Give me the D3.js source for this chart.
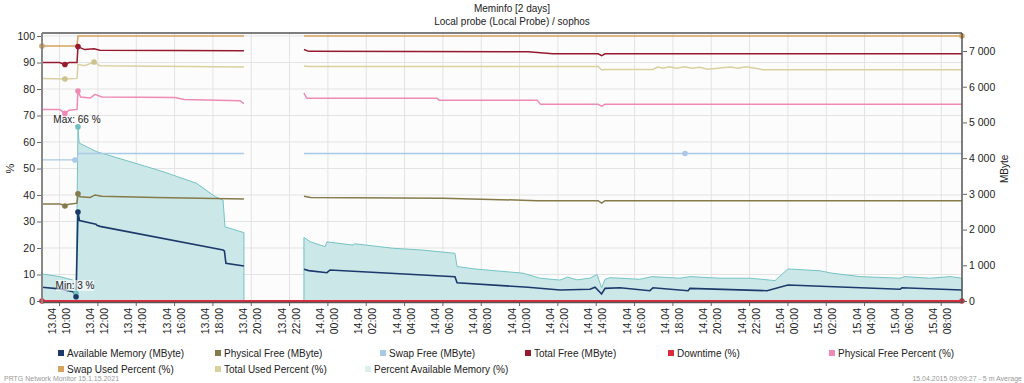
<!DOCTYPE html>
<html>
<head>
<meta charset="utf-8">
<script src="https://cdn.jsdelivr.net/npm/d3@7"></script>
<style>
  body { margin: 0; background: #fff; }
  svg text { font-family: "Liberation Sans", Arial, sans-serif; }
</style>
</head>
<body>
<svg id="chart" width="1024" height="383"></svg>
<script>
// values are [hours since 13.04.2015 00:00, value]; null marks the gap
var availableMB = [[9.08,384],[10.0,340],[10.70,262],[10.86,120],[10.96,2490],[11.04,2250],[11.90,2150],[11.95,2120],[12.11,2090],[18.53,1430],[18.6,1400],[18.68,1056],[19.62,980],[19.7,null],
  [22.75,888],[23.0,850],[23.85,800],[23.95,793],[24.11,868],[30.63,680],[30.74,513],[34.44,384],[36.11,308],[37.67,328],[37.94,384],[38.28,196],[38.46,353],[39.24,370],[40.80,289],[40.96,370],[42.79,289],[42.89,353],[46.91,289],[48.00,448],[53.85,328],[53.95,370],[57.08,308]];
var physFreeMB = [[9.08,2717],[10.0,2717],[10.28,2680],[10.5,2710],[10.91,2740],[10.96,3005],[11.07,2920],[11.6,2900],[11.85,2970],[12.2,2930],[15,2900],[19.62,2857],[19.7,null],
  [22.75,2930],[23.1,2900],[30,2880],[34.91,2810],[38.1,2810],[38.28,2740],[38.46,2810],[57.08,2810]];
var swapFreeMB = [[9.08,3950],[10.91,3950],[10.96,4130],[19.62,4130],[19.7,null],[22.75,4130],[57.08,4130]];
var totalFreeMB = [[9.08,6675],[10.0,6675],[10.28,6620],[10.5,6675],[10.91,6675],[10.96,7123],[11.3,7040],[11.8,7060],[12.1,7020],[19.62,7010],[19.7,null],
  [22.75,7040],[23.0,6990],[34.44,6980],[35.74,6920],[38.1,6920],[38.28,6870],[38.46,6920],[57.08,6920]];
var downtimePct = [[9.08,0],[57.08,0]];
var physFreePct = [[9.08,72.3],[10.0,72.3],[10.28,70.8],[10.5,72],[10.91,72.3],[10.96,79.2],[11.1,77],[11.6,76.6],[11.85,78],[12.2,77],[16.02,76.8],[16.5,76],[19.41,75.6],[19.62,74.5],[19.7,null],
  [22.75,78.4],[22.9,76.5],[29.69,76.5],[29.8,75.8],[34.91,75.8],[35.1,74.2],[38.1,74.2],[38.28,73.5],[38.46,74.2],[57.08,74.2]];
var swapUsedPct = [[9.08,96.2],[10.91,96.2],[10.96,100],[19.62,100],[19.7,null],[22.75,100],[57.08,100]];
var totalUsedPct = [[9.08,84],[10.28,83.8],[10.91,84],[10.96,89.3],[11.3,88.8],[11.80,90.2],[12.1,88.8],[19.62,88.3],[19.7,null],
  [22.75,88.7],[23.0,88.5],[38.1,88.5],[38.28,87.2],[38.46,87.4],[40.96,87.4],[41.2,88.3],[41.5,87.8],[41.8,88.4],[42.2,87.8],[42.6,88.4],[43.0,87.8],[43.4,88.2],[43.8,87.5],[44.6,88.0],[45.0,88.3],[45.4,87.8],[45.8,88.4],[46.3,87.8],[46.7,87.3],[57.08,87.3]];
var percentAvail = [[9.08,10.2],[10.0,9.2],[10.70,7.9],[10.86,3.0],[10.96,65.7],[11.02,59.6],[11.95,56.3],[13.67,52.6],[15.40,48.8],[17.15,44.4],[18.11,39.4],[18.53,38.1],[18.63,28],[19.62,25.8],[19.7,null],
  [22.75,24],[23.07,22.4],[23.85,20.5],[23.95,22.3],[25.31,21.1],[25.4,21.6],[27.40,19.9],[28.96,19.2],[30.63,18],[30.74,13],[31.78,12],[34.18,10.5],[35.07,8.6],[36.11,7.9],[36.5,9.0],[37.0,8.0],[37.67,8.6],[38.04,10],[38.28,5],[38.46,8.2],[38.72,8.8],[40.28,8.2],[40.91,9.2],[42.37,8.6],[42.89,9.2],[44.46,8.6],[46.02,8.6],[47.33,7.7],[48.00,12.1],[49.67,11.4],[50.30,10.5],[51.76,9.2],[53.85,8.6],[54.11,9.2],[55.41,8.6],[56.46,9.2],[57.08,8.6]];

// marker dots [hour, value]
var availableMarks = [[10.86,120],[10.96,2490]];
var physFreeMarks = [[10.28,2660],[10.96,3005]];
var swapFreeMarks = [[10.80,3950],[42.63,4130]];
var totalFreeMarks = [[10.28,6620],[10.96,7123]];
var downtimeMarks = [[9.08,0],[57.08,0]];
var physPctMarks = [[10.28,70.8],[10.96,79.2]];
var swapUsedMarks = [[9.08,96.2],[57.08,100]];
var totalUsedMarks = [[10.28,83.8],[11.80,90.2]];
var percentMarks = [[10.86,3.0],[10.96,65.7]];

var pctTicks = [0,10,20,30,40,50,60,70,80,90,100];
var mbTicks = [0,1000,2000,3000,4000,5000,6000,7000];

var legendNames = ["Available Memory (MByte)","Physical Free (MByte)","Swap Free (MByte)","Total Free (MByte)","Downtime (%)","Physical Free Percent (%)",
  "Swap Used Percent (%)","Total Used Percent (%)","Percent Available Memory (%)"];
var colors = ["#1b3a6b","#857a4a","#a9c9e6","#961a2e","#dc2b3b","#ee8ab4","#d8a35e","#d9d0a0","#dcefef"];

(function() {
var svg = d3.select("#chart");
var pL = 42, pR = 962, pT = 36, pB = 301;
var fs = 10;

var t0 = new Date(2015, 3, 13, 0, 0).getTime();
function toDate(h) { return new Date(t0 + h * 3600e3); }

var x = d3.scaleTime()
  .domain([new Date(2015, 3, 13, 9, 5), new Date(2015, 3, 15, 9, 5)])
  .range([pL, pR]);
var yPct = d3.scaleLinear().domain([0, 100]).range([pB, pT]);
var yMB = d3.scaleLinear().domain([0, 7420]).range([pB, pT]);

// titles
svg.append("text").attr("x", 512).attr("y", 12).attr("text-anchor", "middle")
  .attr("font-size", fs).attr("fill", "#222").text("Meminfo [2 days]");
svg.append("text").attr("x", 512).attr("y", 25).attr("text-anchor", "middle")
  .attr("font-size", fs).attr("fill", "#222").text("Local probe (Local Probe) / sophos");

// plot background
svg.append("rect").attr("x", pL).attr("y", pT - 3).attr("width", pR - pL).attr("height", pB - pT + 4)
  .attr("fill", "#fcfcfc");

var xTicks = x.ticks(d3.timeHour.every(2));

svg.append("g").selectAll("line").data(xTicks).enter().append("line")
  .attr("x1", function(d) { return x(d); }).attr("x2", function(d) { return x(d); })
  .attr("y1", pT - 3).attr("y2", pB + 1)
  .attr("stroke", "#e3e3e3");
svg.append("g").selectAll("line").data(pctTicks.slice(1)).enter().append("line")
  .attr("x1", pL).attr("x2", pR)
  .attr("y1", function(d) { return yPct(d); }).attr("y2", function(d) { return yPct(d); })
  .attr("stroke", "#e3e3e3");

function line(yScale) {
  return d3.line()
    .defined(function(d) { return d[1] != null; })
    .x(function(d) { return x(toDate(d[0])); })
    .y(function(d) { return yScale(d[1]); });
}

// percent available memory area
var area = d3.area()
  .defined(function(d) { return d[1] != null; })
  .x(function(d) { return x(toDate(d[0])); })
  .y0(yPct(0))
  .y1(function(d) { return yPct(d[1]); });
svg.append("path").datum(percentAvail).attr("d", area)
  .attr("fill", "#cce7e8").attr("stroke", "#74c4c4").attr("stroke-width", 1);

var series = [
  {data: swapFreeMB, y: yMB, color: colors[2], w: 1.3, marks: swapFreeMarks},
  {data: physFreeMB, y: yMB, color: colors[1], w: 1.5, marks: physFreeMarks},
  {data: totalUsedPct, y: yPct, color: colors[7], w: 1.5, marks: totalUsedMarks},
  {data: physFreePct, y: yPct, color: colors[5], w: 1.5, marks: physPctMarks},
  {data: totalFreeMB, y: yMB, color: colors[3], w: 1.5, marks: totalFreeMarks},
  {data: swapUsedPct, y: yPct, color: colors[6], w: 1.5, marks: swapUsedMarks},
  {data: availableMB, y: yMB, color: colors[0], w: 1.6, marks: availableMarks},
  {data: downtimePct, y: yPct, color: colors[4], w: 2, marks: downtimeMarks}
];

series.forEach(function(s) {
  svg.append("path").datum(s.data).attr("d", line(s.y))
    .attr("fill", "none").attr("stroke", s.color).attr("stroke-width", s.w);
});
svg.append("g").selectAll("circle").data(percentMarks).enter().append("circle")
  .attr("cx", function(d) { return x(toDate(d[0])); }).attr("cy", function(d) { return yPct(d[1]); })
  .attr("r", 2.8).attr("fill", "#6fc0c0");
series.forEach(function(s) {
  svg.append("g").selectAll("circle").data(s.marks).enter().append("circle")
    .attr("cx", function(d) { return x(toDate(d[0])); }).attr("cy", function(d) { return s.y(d[1]); })
    .attr("r", 2.8).attr("fill", s.color === colors[7] ? "#cbc28c" : s.color);
});

// max / min labels
var pts = percentAvail.filter(function(d) { return d[1] != null; });
var maxP = d3.greatest(pts, function(d) { return d[1]; });
var minP = d3.least(pts, function(d) { return d[1]; });
var mx = x(toDate(maxP[0])), my = yPct(maxP[1]);
svg.append("text").attr("x", mx - 1).attr("y", my - 4).attr("text-anchor", "middle")
  .attr("font-size", fs).attr("fill", "#222").text("Max: " + Math.round(maxP[1]) + " %");
var nx = x(toDate(minP[0])), ny = yPct(minP[1]);
svg.append("rect").attr("x", nx - 20).attr("y", ny - 13).attr("width", 38).attr("height", 11)
  .attr("fill", "#ffffff").attr("opacity", 0.6);
svg.append("text").attr("x", nx - 1).attr("y", ny - 4).attr("text-anchor", "middle")
  .attr("font-size", fs).attr("fill", "#222").text("Min: " + Math.round(minP[1]) + " %");

// frame
svg.append("line").attr("x1", pL).attr("x2", pR).attr("y1", pT - 3).attr("y2", pT - 3)
  .attr("stroke", "#555").attr("stroke-width", 1.5);
svg.append("line").attr("x1", pL).attr("x2", pR).attr("y1", pB + 1.5).attr("y2", pB + 1.5)
  .attr("stroke", "#555").attr("stroke-width", 1.5);
svg.append("line").attr("x1", pL).attr("x2", pL).attr("y1", pT - 3).attr("y2", pB + 2)
  .attr("stroke", "#888").attr("stroke-width", 2);
svg.append("line").attr("x1", pR).attr("x2", pR).attr("y1", pT - 3).attr("y2", pB + 2)
  .attr("stroke", "#555").attr("stroke-width", 1.5);

// axes
var yAxisL = svg.append("g").attr("transform", "translate(" + (pL - 1) + ",0)")
  .call(d3.axisLeft(yPct).tickValues(pctTicks).tickSize(4).tickPadding(2));
var yAxisR = svg.append("g").attr("transform", "translate(" + (pR + 1) + ",0)")
  .call(d3.axisRight(yMB).tickValues(mbTicks).tickSize(4).tickPadding(2)
    .tickFormat(function(d) { return d3.format(",")(d).replace(",", " "); }));
[yAxisL, yAxisR].forEach(function(a) {
  a.select(".domain").remove();
  a.selectAll("line").attr("stroke", "#666");
  a.selectAll("text").attr("font-size", fs + 0.5).attr("fill", "#222")
    .attr("font-family", "Liberation Sans, Arial, sans-serif");
});

var fmtD = d3.timeFormat("%d.%m"), fmtT = d3.timeFormat("%H:%M");
var xl = svg.append("g").selectAll("g").data(xTicks).enter().append("g")
  .attr("transform", function(d) { return "translate(" + x(d) + "," + (pB + 7) + ") rotate(-90)"; });
xl.append("text").attr("x", 0).attr("y", -4).attr("text-anchor", "end")
  .attr("font-size", fs + 0.5).attr("fill", "#222").text(function(d) { return fmtD(d); });
xl.append("text").attr("x", 0).attr("y", 10).attr("text-anchor", "end")
  .attr("font-size", fs + 0.5).attr("fill", "#222").text(function(d) { return fmtT(d); });
svg.append("g").selectAll("line").data(xTicks).enter().append("line")
  .attr("x1", function(d) { return x(d); }).attr("x2", function(d) { return x(d); })
  .attr("y1", pB + 2).attr("y2", pB + 5).attr("stroke", "#666");

svg.append("text").attr("transform", "translate(14," + yPct(50) + ") rotate(-90)")
  .attr("text-anchor", "middle").attr("font-size", fs + 1).attr("fill", "#222").text("%");
svg.append("text").attr("transform", "translate(1008," + yMB(3700) + ") rotate(-90)")
  .attr("text-anchor", "middle").attr("font-size", fs).attr("fill", "#222").text("MByte");

// legend
var legX = [58, 215, 380, 525, 668, 829, 58, 215, 365];
var leg = svg.append("g").selectAll("g").data(legendNames).enter().append("g")
  .attr("transform", function(d, i) { return "translate(" + legX[i] + "," + (i < 6 ? 354 : 370) + ")"; });
leg.append("rect").attr("x", 0).attr("y", -4).attr("width", 6).attr("height", 6)
  .attr("fill", function(d, i) { return colors[i]; });
leg.append("text").attr("x", 9).attr("y", 3).attr("font-size", fs).attr("fill", "#222")
  .text(function(d) { return d; });

svg.append("text").attr("x", 4).attr("y", 381).attr("font-size", 7).attr("fill", "#999")
  .text("PRTG Network Monitor 15.1.15.2021");
svg.append("text").attr("x", 1022).attr("y", 381).attr("text-anchor", "end").attr("font-size", 7).attr("fill", "#999")
  .text("15.04.2015 09:09:27 - 5 m Average");
})();
</script>
</body>
</html>
